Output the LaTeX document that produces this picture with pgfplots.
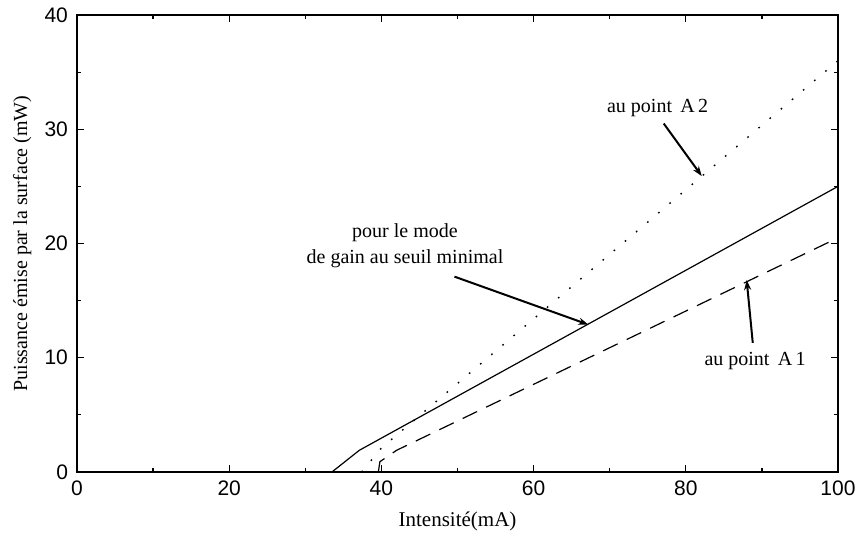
\documentclass[border=0pt]{standalone}
\usepackage{fontspec}
\setmainfont{Liberation Serif}
\newfontfamily\ticksf{Liberation Sans}
\usepackage{pgfplots}
\pgfplotsset{compat=1.18}
\usetikzlibrary{arrows.meta}

\begin{document}
\begin{tikzpicture}
\begin{axis}[
    width=380.5pt, height=228.5pt,
    scale only axis,
    xmin=0, xmax=100, ymin=0, ymax=40,
    xtick={0,20,...,100}, ytick={0,10,...,40},
    minor xtick={10,30,...,90}, minor ytick={5,15,...,35},
    tick align=inside,
    major tick length=3.5pt, minor tick length=2pt,
    axis line style={line width=0.7pt},
    tick style={line width=0.6pt, black},
    /pgf/number format/assume math mode=true,
    ticklabel style={font=\ticksf\fontsize{10.5}{12}\selectfont},
    yticklabel style={xshift=-1pt},
    xticklabel style={yshift=-1pt},
    xlabel={Intensité(mA)},
    ylabel={Puissance émise par la surface (mW)},
    xlabel style={font=\fontsize{10.5}{12}\selectfont, at={(axis description cs:0.5,-0.109)}, anchor=center},
    ylabel style={font=\fontsize{10}{12}\selectfont, at={(axis description cs:-0.072,0.5)}, anchor=center},
    clip=false,
]
% seuil minimal (solid)
\addplot[black, line width=0.6pt] coordinates {
    (33.5,0) (37.1,1.9) (100,25.0)
};
% point A1 (dashed)
\addplot[black, line width=0.6pt, dash pattern=on 8pt off 5pt] coordinates {
    (39.6,0) (39.8,0.9) (42,1.9) (100,20.5)
};
% point A2 (dotted)
\addplot[black, line width=0.7pt, dash pattern=on 0.8pt off 6.5pt] coordinates {
    (37.4,0) (40,2.1) (100,36.0)
};

\node[font=\fontsize{10}{12}\selectfont] at (axis cs:76.3,31.9) {au point\ \,A\,2};
\draw[-{Stealth[length=5pt,width=3.5pt]}, line width=1pt] (axis cs:77.1,30.5) -- (axis cs:82.1,25.9);

\node[font=\fontsize{10}{13}\selectfont, align=center] at (axis cs:43.1,19.8) {pour le mode\\de gain au seuil minimal};
\draw[-{Stealth[length=5pt,width=3.5pt]}, line width=1pt] (axis cs:49.6,17.1) -- (axis cs:67.2,12.9);

\node[font=\fontsize{10}{12}\selectfont] at (axis cs:89.1,9.7) {au point\ \,A\,1};
\draw[-{Stealth[length=5pt,width=3.5pt]}, line width=1pt] (axis cs:88.8,11.3) -- (axis cs:88.0,16.8);
\end{axis}
\pgfresetboundingbox
\path[use as bounding box] ([shift={(-38.5pt,-33.5pt)}]current axis.south west) rectangle ([shift={(9.5pt,7.5pt)}]current axis.north east);
\end{tikzpicture}
\end{document}
